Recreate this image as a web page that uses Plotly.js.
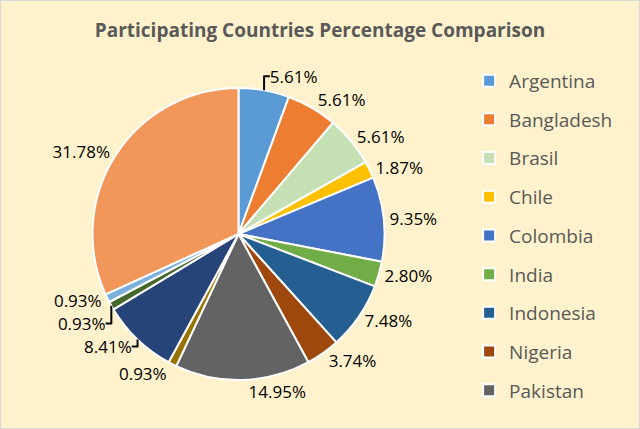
<!DOCTYPE html>
<html>
<head>
<meta charset="utf-8">
<script src="https://cdn.plot.ly/plotly-3.0.1.min.js"></script>
<style>html,body{margin:0;padding:0;background:#FFF2CC;}#chart{width:640px;height:429px;}</style>
</head>
<body>
<div id="chart"></div>
<script>
// Data (participant counts; percentages are computed by the pie)
const countries = ["Argentina","Bangladesh","Brasil","Chile","Colombia","India","Indonesia","Nigeria","Pakistan","Peru","Philippines","Spain","Sri Lanka","Venezuela"];
const participants = [6, 6, 6, 2, 10, 3, 8, 4, 16, 1, 9, 1, 1, 34];
const sliceColors = ["#5B9BD5","#ED7D31","#C5E0B4","#FFC000","#4472C4","#70AD47","#255E91","#9E480E","#636363","#997300","#264478","#43682B","#7CAFDD","#F1975A"];
const legendCount = 9; // the reference legend shows only the first nine entries

const mainDomain = {x: [0.1445, 0.6008], y: [0.1142, 0.7949]};
const tinyDomain = {x: [0.372, 0.374], y: [0.453, 0.456]};

const traces = [];
// legend-only entries (tiny pies hidden beneath the main pie's centre)
for (let i = 0; i < legendCount; i++) {
  traces.push({
    type: 'pie',
    labels: [countries[i]],
    values: [participants[i]],
    marker: {colors: [sliceColors[i]], line: {color: '#FFFFFF', width: 2}},
    domain: tinyDomain,
    textinfo: 'none',
    hoverinfo: 'skip',
    showlegend: true,
    legendgroup: 'g' + i,
    sort: false
  });
}
traces.push({
  type: 'pie',
  labels: countries,
  values: participants,
  marker: {colors: sliceColors, line: {color: '#FFFFFF', width: 2}},
  domain: mainDomain,
  sort: false,
  direction: 'clockwise',
  rotation: 0,
  textposition: 'outside',
  texttemplate: '%{percent:.2%}',
  outsidetextfont: {family: 'Open Sans, sans-serif', size: 17, color: '#000000'},
  showlegend: false,
  hoverinfo: 'label+percent'
});

const layout = {
  width: 640,
  height: 429,
  paper_bgcolor: '#FFF2CC',
  plot_bgcolor: '#FFF2CC',
  margin: {l: 0, r: 0, t: 0, b: 0},
  title: {
    text: '<b>Participating Countries Percentage Comparison</b>',
    font: {family: 'Open Sans, sans-serif', size: 19, color: '#595959'},
    x: 0.5, xanchor: 'center', y: 0.93, yanchor: 'middle'
  },
  legend: {
    x: 0.733, xanchor: 'left', y: 0.856, yanchor: 'top',
    font: {family: 'Open Sans, sans-serif', size: 19, color: '#595959'},
    bgcolor: 'rgba(0,0,0,0)',
    tracegroupgap: 11,
    traceorder: 'grouped'
  },
  shapes: [{type: 'rect', xref: 'paper', yref: 'paper', x0: 0, x1: 1, y0: 0, y1: 1,
            line: {color: '#D9D9D9', width: 2}, fillcolor: 'rgba(0,0,0,0)'}]
};

Plotly.newPlot('chart', traces, layout, {displayModeBar: false, staticPlot: true});
</script>
</body>
</html>
